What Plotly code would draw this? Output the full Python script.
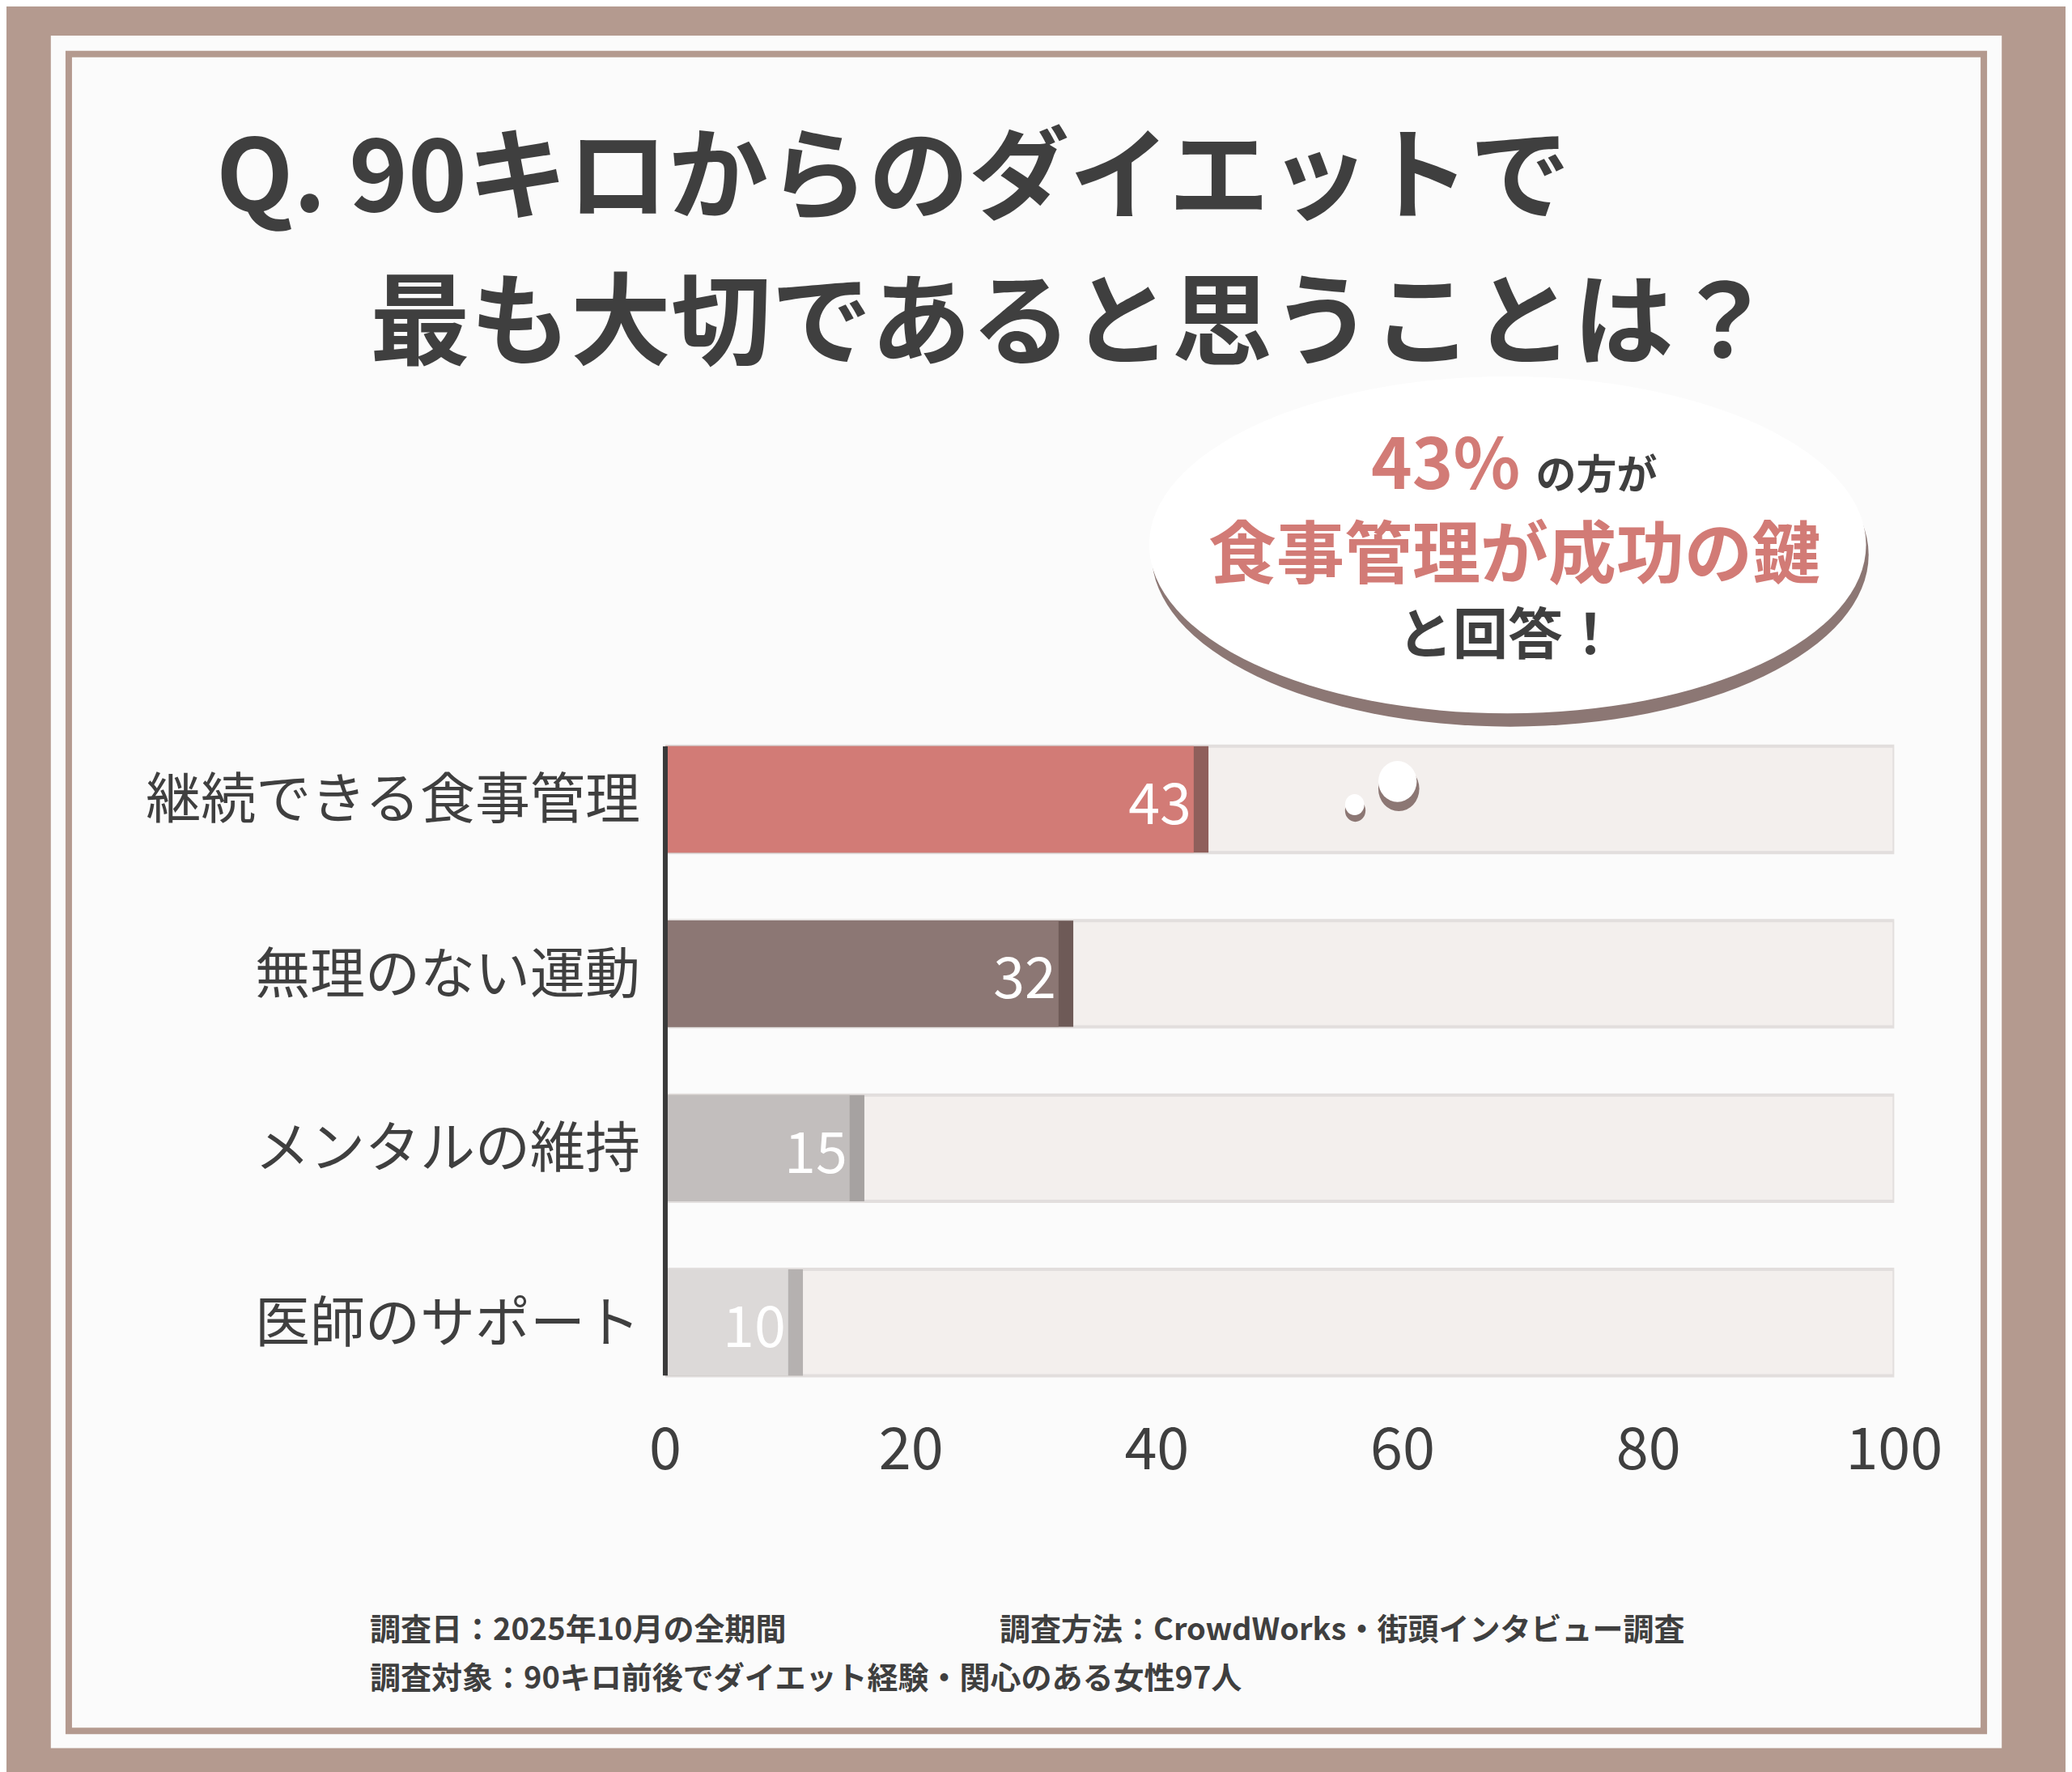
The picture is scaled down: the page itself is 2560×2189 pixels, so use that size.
import plotly.graph_objects as go

categories = ["継続できる食事管理", "無理のない運動", "メンタルの維持", "医師のサポート"]
values = [43, 32, 15, 10]
bar_colors = ["#d27b76", "#8c7774", "#c2bebd", "#dcd9d8"]
shadow_colors = ["#8f5f5b", "#6e5a57", "#a6a2a1", "#b5b1b0"]
tick_vals = [0, 20, 40, 60, 80, 100]

W, H = 2560, 2189
FONT = "Noto Sans CJK JP"
DARK = "#3f3f3f"
RED = "#d27b76"

# helpers: reference-view pixel (1568x1341) -> paper fraction
def px(x):
    return x / 1568

def py(y):
    return 1 - y / 1341

fig = go.Figure()

# background track
fig.add_trace(go.Bar(y=categories, x=[100] * 4, orientation="h", width=0.61,
                     marker=dict(color="#f3efed", line=dict(color="#e2dedd", width=4)),
                     hoverinfo="skip", showlegend=False))
# shadow
fig.add_trace(go.Bar(y=categories, x=[v + 1.2 for v in values], orientation="h", width=0.61,
                     marker=dict(color=shadow_colors, line=dict(width=0)),
                     hoverinfo="skip", showlegend=False))
# value bars
fig.add_trace(go.Bar(y=categories, x=values, orientation="h", width=0.61,
                     marker=dict(color=bar_colors, line=dict(width=0)),
                     text=[str(v) for v in values], textposition="inside",
                     insidetextanchor="end",
                     textfont=dict(family=FONT, size=70, color="white"),
                     showlegend=False))

fig.update_layout(
    width=W, height=H, barmode="overlay",
    margin=dict(l=0, r=0, t=0, b=0),
    paper_bgcolor="#b49a8f", plot_bgcolor="rgba(0,0,0,0)",
    xaxis=dict(domain=[px(502), px(1462)], range=[0, 100], tickvals=tick_vals,
               showgrid=False, zeroline=False, showline=False, ticks="",
               tickfont=dict(family=FONT, size=72, color=DARK)),
    yaxis=dict(domain=[py(1062), py(534)], range=[3.5, -0.5], showgrid=False,
               zeroline=False, showline=False, ticks="", ticklabelstandoff=30,
               tickfont=dict(family=FONT, size=68, color=DARK)),
    font=dict(family=FONT),
)

shapes = [
    dict(type="rect", xref="paper", yref="paper", x0=px(22), x1=px(1546), y0=py(1318), y1=py(22),
         fillcolor="#fbfbfb", line=dict(width=0), layer="below"),
    dict(type="rect", xref="paper", yref="paper", x0=px(36), x1=px(1532), y0=py(1305), y1=py(36),
         fillcolor="rgba(0,0,0,0)", line=dict(color="#b49a8f", width=8), layer="below"),
    # axis line
    dict(type="line", xref="paper", yref="paper", x0=px(502), x1=px(502), y0=py(1036), y1=py(560),
         line=dict(color="#3a3a3a", width=6)),
    # speech bubble shadow + body
    dict(type="circle", xref="paper", yref="paper", x0=px(882), x1=px(1442), y0=py(545), y1=py(285),
         fillcolor="#8c7774", line=dict(width=0)),
    dict(type="circle", xref="paper", yref="paper", x0=px(880), x1=px(1440), y0=py(535), y1=py(280),
         fillcolor="white", line=dict(width=0)),
    dict(type="circle", xref="paper", yref="paper", x0=px(1059), x1=px(1091), y0=py(609), y1=py(575),
         fillcolor="#8c7774", line=dict(width=0)),
    dict(type="circle", xref="paper", yref="paper", x0=px(1059), x1=px(1089), y0=py(602), y1=py(571),
         fillcolor="white", line=dict(width=0)),
    dict(type="circle", xref="paper", yref="paper", x0=px(1033), x1=px(1049), y0=py(617), y1=py(600),
         fillcolor="#8c7774", line=dict(width=0)),
    dict(type="circle", xref="paper", yref="paper", x0=px(1033), x1=px(1048), y0=py(612), y1=py(596),
         fillcolor="white", line=dict(width=0)),
]
fig.update_layout(shapes=shapes)

def note(x, y, text, size, color=DARK, anchor="left"):
    fig.add_annotation(xref="paper", yref="paper", x=px(x), y=py(y), text=text, showarrow=False,
                       xanchor=anchor, yanchor="middle",
                       font=dict(family=FONT, size=size, color=color))

note(150, 122, "<b>Q. 90キロからのダイエットで</b>", 124)
note(270, 232, "<b>最も大切であると思うことは？</b>", 124)
note(1165, 342, "<b>43%</b> <span style='color:#3f3f3f;font-size:50px'><b>の方が</b></span>", 86, RED, "center")
note(1165, 410, "<b>食事管理が成功の鍵</b>", 84, RED, "center")
note(1160, 472, "<b>と回答！</b>", 68, DARK, "center")
note(270, 1226, "<b>調査日：2025年10月の全期間</b>", 38)
note(762, 1226, "<b>調査方法：CrowdWorks・街頭インタビュー調査</b>", 38)
note(270, 1263, "<b>調査対象：90キロ前後でダイエット経験・関心のある女性97人</b>", 38)

fig.write_html("out.html")
